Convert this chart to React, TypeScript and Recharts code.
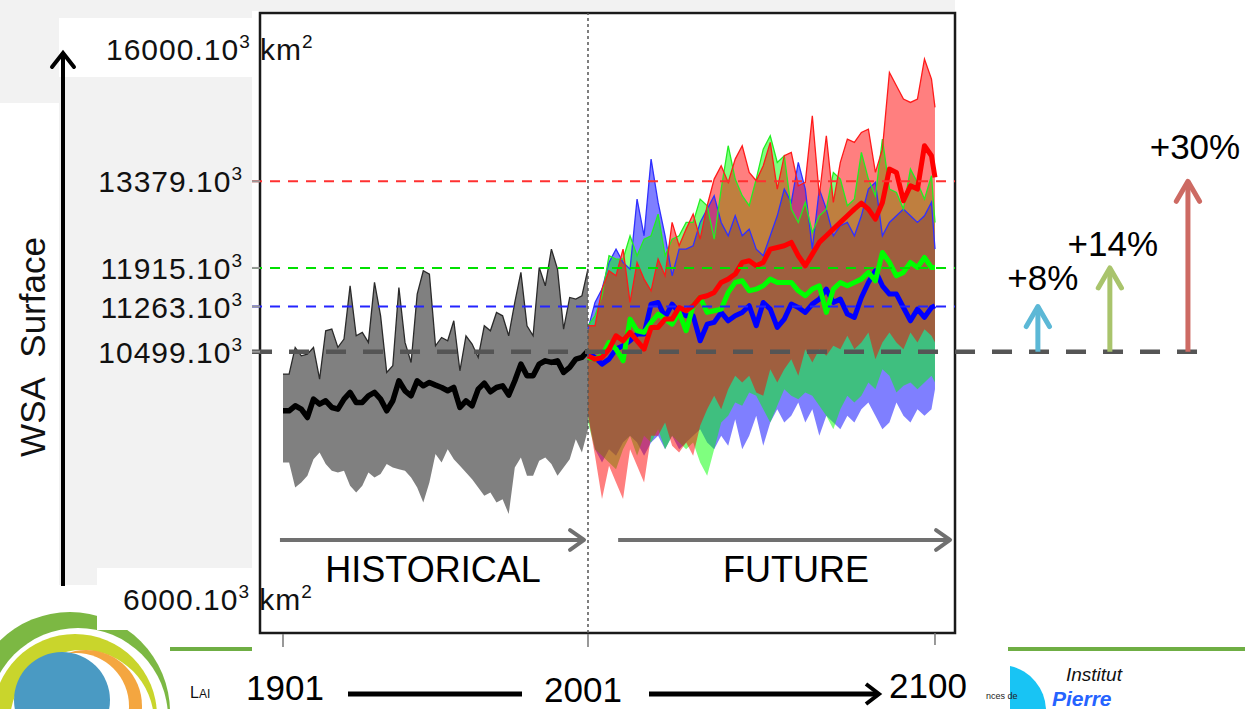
import React from "react";
import {
  ComposedChart,
  Area,
  Line,
  XAxis,
  YAxis,
  ReferenceLine,
  ReferenceArea,
} from "recharts";

const FONT = '"Liberation Sans", Arial, Helvetica, sans-serif';

// ---- historical run (1901-2001), values in 10^3 km2 ----
const HIST_YEARS = [
  1901, 1903, 1905, 1907, 1909, 1911, 1913, 1915, 1917, 1919, 1921, 1923, 1925,
  1927, 1929, 1931, 1933, 1935, 1937, 1939, 1941, 1943, 1945, 1947, 1949, 1951,
  1953, 1955, 1957, 1959, 1961, 1963, 1965, 1967, 1969, 1971, 1973, 1975, 1977,
  1979, 1981, 1983, 1985, 1987, 1989, 1991, 1993, 1995, 1997, 1999, 2001,
];
const HIST_HIGH = [
  10121, 10121, 10571, 10430, 10459, 10571, 10036, 10853, 10881, 10571, 10712,
  11613, 10768, 10825, 10656, 11670, 11106, 10149, 10261, 11585, 10656, 10318,
  11473, 11867, 11811, 10599, 10740, 10684, 11022, 10177, 10768, 10628, 10402,
  10937, 10853, 11163, 11106, 10768, 11332, 11839, 10937, 10768, 11923, 11613,
  12233, 11895, 10881, 11416, 11388, 11444, 11900,
];
const HIST_LOW = [
  8628, 8628, 8205, 8290, 8403, 8684, 8797, 8600, 8487, 8459, 8487, 8234, 8121,
  8234, 8459, 8374, 8431, 8600, 8543, 8515, 8487, 8374, 8205, 7952, 8290, 8769,
  8628, 8853, 8684, 8571, 8459, 8346, 8205, 8065, 8121, 7952, 8008, 7755, 8543,
  8712, 8403, 8403, 8656, 8712, 8600, 8403, 8543, 8684, 9022, 8797, 9191,
];
const HIST_MEAN = [
  9501, 9501, 9586, 9529, 9388, 9698, 9614, 9670, 9557, 9529, 9698, 9811, 9642,
  9642, 9754, 9811, 9698, 9501, 9670, 10008, 9839, 9754, 10008, 9923, 9980, 9935,
  9895, 9839, 9895, 9557, 9670, 9586, 9867, 9969, 9822, 9895, 9923, 9766, 10008,
  10290, 10093, 10093, 10290, 10346, 10318, 10346, 10149, 10233, 10374, 10402,
  10515,
];

// ---- future runs (2001-2100), three scenarios ----
const FUT_YEARS = [
  2001, 2003, 2005, 2007, 2009, 2011, 2013, 2015, 2017, 2019, 2021, 2023, 2025,
  2027, 2029, 2031, 2033, 2035, 2037, 2039, 2041, 2043, 2045, 2047, 2049, 2051,
  2053, 2055, 2057, 2059, 2061, 2063, 2065, 2067, 2069, 2071, 2073, 2075, 2077,
  2079, 2081, 2083, 2085, 2087, 2089, 2091, 2093, 2095, 2097, 2099, 2100,
];
// blue scenario
const LOW_MEAN = [
  10487, 10402, 10290, 10374, 10543, 10600, 10684, 10797, 10797, 11304, 11332,
  11079, 11304, 11163, 11107, 11107, 10684, 10965, 10994, 11163, 11022, 11107,
  11163, 11276, 10938, 11332, 11219, 10909, 11050, 11304, 11247, 11163, 11304,
  11388, 11557, 11332, 11388, 11135, 11079, 11416, 11670, 11867, 11613, 11473,
  11473, 11247, 11022, 11219, 11079, 11247, 11276,
];
const LOW_MAX = [
  10881, 11332, 11557, 12008, 12233, 12008, 11895, 13078, 12458, 13754, 13022,
  12458, 11783, 12233, 12233, 12290, 12684, 12909, 13135, 12684, 12458, 12796,
  12458, 12571, 12233, 12121, 12458, 12796, 13247, 13022, 13698, 13247, 12233,
  13247, 12909, 12458, 12628, 12684, 12458, 12796, 13247, 13360, 12458, 12684,
  12796, 12909, 12796, 12684, 12796, 13022, 12233,
];
const LOW_MIN = [
  9417, 8853, 8628, 8853, 8741, 8966, 9079, 8966, 8741, 8966, 9079, 8853, 9079,
  8853, 8966, 9079, 9191, 8966, 8853, 9079, 8910, 9360, 8853, 9079, 9417, 8910,
  9304, 9529, 9304, 9417, 9642, 9304, 9529, 9079, 9417, 9304, 9191, 9417, 9304,
  9529, 9642, 9417, 9191, 9304, 9642, 9417, 9304, 9529, 9417, 9529, 9867,
];
// green scenario
const MID_MEAN = [
  10402, 10374, 10431, 10656, 10543, 10346, 11050, 10853, 10825, 10994, 11135,
  11050, 10965, 11163, 10853, 11276, 11416, 11163, 11191, 11219, 11501, 11670,
  11698, 11529, 11557, 11613, 11726, 11670, 11670, 11670, 11529, 11445, 11557,
  11613, 11163, 11557, 11670, 11613, 11670, 11726, 11839, 11698, 12177, 12008,
  11782, 11839, 12008, 11923, 12092, 11923, 11923,
];
const MID_MAX = [
  10938, 11107, 11445, 12121, 12064, 12064, 12458, 12121, 12402, 12458, 12825,
  12121, 12402, 12458, 12684, 12684, 13078, 12966, 12402, 13247, 13980, 13416,
  13135, 12966, 13416, 13923, 14149, 13698, 13811, 12909, 12684, 13022, 12515,
  12796, 12909, 13529, 13416, 12966, 13078, 13867, 13416, 13135, 14092, 13247,
  13191, 12909, 13585, 13360, 13078, 13473, 12684,
];
const MID_MIN = [
  9304, 8853, 8741, 8628, 8515, 8853, 9079, 8741, 9079, 8966, 9191, 8853, 9079,
  8966, 8853, 8966, 8628, 8402, 8853, 9304, 9417, 9642, 9586, 9811, 9754, 9529,
  9304, 9586, 9867, 9754, 9698, 9811, 9754, 9586, 9417, 9191, 9529, 9754, 9642,
  9754, 9980, 9867, 10205, 10092, 9811, 9923, 9980, 9867, 9980, 10092, 9980,
];
// red scenario
const HIGH_MEAN = [
  10431, 10374, 10402, 10543, 10769, 10684, 10825, 10684, 10543, 10909, 10909,
  11050, 11050, 11247, 11191, 11276, 11416, 11445, 11501, 11670, 11726, 11811,
  12008, 12036, 11952, 12008, 12233, 12261, 12290, 12346, 12121, 11952, 12149,
  12346, 12458, 12571, 12684, 12796, 12909, 13011, 12909, 12740, 13022, 13585,
  13529, 13050, 13304, 13247, 13980, 13810, 13444,
];
const HIGH_MAX = [
  10938, 10938, 11557, 11867, 11783, 12233, 11332, 12008, 11726, 11529, 12064,
  11783, 12684, 12290, 12571, 12825, 12402, 12966, 13416, 13641, 13360, 13754,
  13980, 13529, 13388, 13641, 14036, 13247, 13811, 13867, 13304, 13360, 14487,
  13135, 14149, 13022, 13698, 14093, 14036, 14205, 14261, 13529, 13923, 15219,
  14993, 14768, 14712, 14768, 15444, 15106, 14627,
];
const HIGH_MIN = [
  9417, 8741, 8009, 8572, 8290, 8009, 8853, 8572, 8290, 9079, 9079, 9304, 8910,
  8797, 8966, 8741, 9248, 9529, 9754, 9529, 9867, 10092, 9980, 10092, 9811, 9754,
  10205, 9980, 10205, 10374, 10092, 10543, 10318, 10543, 10430, 10600, 10543,
  10768, 10543, 10656, 10825, 10374, 10656, 10825, 10656, 10543, 10825, 10656,
  10881, 10768, 10656,
];

// reference levels (end-of-century mean of each scenario vs historical)
const BASE_LEVEL = 10499;
const LEVELS = [
  { value: 13379, color: "#ff3030", arrow: "#cd6a63", label: "+30%" },
  { value: 11915, color: "#00e000", arrow: "#a9c46c", label: "+14%" },
  { value: 11263, color: "#2424ff", arrow: "#5cb8d6", label: "+8%" },
];
const Y_TICKS = [10499, 11263, 11915, 13379];

// axis layout (historical and future panels have different year widths)
const HIST_DOMAIN = [1893.46, 2211.49];
const FUT_DOMAIN = [1907.42, 2184.17];
const Y_DOMAIN = [5746, 16223];
const BOX_END = 2121.33;
const LINE_START = 1890.84;
const BASE_END = 2203.3;
const ARROW_X = { "+8%": 2148.5, "+14%": 2172.1, "+30%": 2197.7 } as Record<string, number>;
const LABEL_OFF = { "+8%": [5, 17], "+14%": [3, 12], "+30%": [7, 22] } as Record<string, number[]>;
const PERIOD_Y = 7318;

type Row = { year: number; [k: string]: any };
const rows: Row[] = HIST_YEARS.map((year, i) => ({
  year,
  histRange: [HIST_LOW[i], HIST_HIGH[i]],
  histHigh: HIST_HIGH[i],
  histMean: HIST_MEAN[i],
}));
FUT_YEARS.forEach((year, i) => {
  let row = rows.find((r) => r.year === year);
  if (!row) {
    row = { year };
    rows.push(row);
  }
  Object.assign(row, {
    lowRange: [LOW_MIN[i], LOW_MAX[i]],
    lowHigh: LOW_MAX[i],
    lowMean: LOW_MEAN[i],
    midRange: [MID_MIN[i], MID_MAX[i]],
    midHigh: MID_MAX[i],
    midMean: MID_MEAN[i],
    highRange: [HIGH_MIN[i], HIGH_MAX[i]],
    highHigh: HIGH_MAX[i],
    highMean: HIGH_MEAN[i],
  });
});

const YTick = (props: any) => {
  const { x, y, payload } = props;
  return (
    <text x={x} y={y + 11} textAnchor="end" fontFamily={FONT} fontSize={30} letterSpacing={1} fill="#111">
      {payload.value}.10
      <tspan dy={-12} fontSize={19}>3</tspan>
    </text>
  );
};

const XTick = (props: any) => {
  const { x, y, payload } = props;
  const v = payload.value;
  const dx = v === 2001 ? -5 : v === 2100 ? -7 : 2;
  return (
    <text x={x + dx} y={y + (v === 2001 ? 55 : 53)} textAnchor="middle" fontFamily={FONT} fontSize={35} fill="#000">
      {v}
    </text>
  );
};

interface ArrowStyle {
  color: string;
  width: number;
  head: number;
  dir: "up" | "right";
  label?: string;
  size?: number;
  dx?: number;
  dy?: number;
}

const arrowShape = (s: ArrowStyle) => (p: any) => {
  const { x1, y1, x2, y2 } = p;
  const h = s.head;
  const head =
    s.dir === "up"
      ? `${x2 - h * 0.58},${y2 + h} ${x2},${y2} ${x2 + h * 0.58},${y2 + h}`
      : `${x2 - h},${y2 - h * 0.7} ${x2},${y2} ${x2 - h},${y2 + h * 0.7}`;
  const tx = s.dir === "up" ? x2 + (s.dx ?? 0) : (x1 + x2) / 2 + (s.dx ?? 0);
  const ty = s.dir === "up" ? y2 - (s.dy ?? 0) : y1 + (s.dy ?? 0);
  return (
    <g>
      <line x1={x1} y1={y1} x2={x2} y2={y2} stroke={s.color} strokeWidth={s.width} />
      <polyline
        points={head}
        fill="none"
        stroke={s.color}
        strokeWidth={s.width}
        strokeLinecap="round"
        strokeLinejoin="round"
      />
      {s.label && (
        <text x={tx} y={ty} textAnchor="middle" fontFamily={FONT} fontSize={s.size ?? 35} fill="#000">
          {s.label}
        </text>
      )}
    </g>
  );
};

const Background = () => (
  <svg width={1245} height={709} style={{ position: "absolute", left: 0, top: 0 }}>
    <rect x={0} y={0} width={955} height={11} fill="#f2f2f2" />
    <rect x={0} y={0} width={59} height={103} fill="#f2f2f2" />
    <rect x={59} y={0} width={193} height={18} fill="#f2f2f2" />
    <rect x={59} y={77} width={193} height={491} fill="#f2f2f2" />
    <rect x={59} y={568} width={38} height={17} fill="#f2f2f2" />
    {/* logo bottom left */}
    <circle cx={70} cy={712} r={100} fill="#7cb843" />
    <circle cx={78} cy={718} r={90} fill="#fff" />
    <circle cx={75} cy={716} r={82} fill="#c9d52c" />
    <circle cx={82} cy={722} r={72} fill="#fff" />
    <circle cx={86} cy={706} r={56} fill="#f4a640" />
    <circle cx={76} cy={706} r={53} fill="#fff" />
    <circle cx={62} cy={700} r={48} fill="#4a9ac3" />
    <rect x={97} y={568} width={158} height={62} fill="#fff" />
    {/* slide separator */}
    <line x1={170} y1={649} x2={252} y2={649} stroke="#6fae44" strokeWidth={4} />
    <line x1={1008} y1={649} x2={1245} y2={649} stroke="#6fae44" strokeWidth={4} />
    {/* logo bottom right */}
    <path d="M1010,709 L1010,666 A46,46 0 0 1 1046,709 Z" fill="#18c4f4" />
    <text x={986} y={699} fontFamily={FONT} fontSize={9} fill="#222">nces de</text>
    <text x={1066} y={681} fontFamily={FONT} fontSize={19} fontStyle="italic" fill="#111">Institut</text>
    <text x={1052} y={706} fontFamily={FONT} fontSize={21} fontStyle="italic" fontWeight="bold" fill="#2563ff">Pierre</text>
    <text x={190} y={698} fontFamily={FONT} fontSize={16} fill="#111">
      L<tspan fontSize={12}>AI</tspan>
    </text>
  </svg>
);

const Overlay = () => (
  <svg width={1245} height={709} style={{ position: "absolute", left: 0, top: 0, pointerEvents: "none" }}>
    <text x={106} y={60} fontFamily={FONT} fontSize={30} letterSpacing={1} fill="#111">
      16000.10
      <tspan dy={-12} fontSize={19}>3</tspan>
      <tspan dy={12}>{"\u00a0km"}</tspan>
      <tspan dy={-12} fontSize={19}>2</tspan>
    </text>
    <text x={123} y={610} fontFamily={FONT} fontSize={30} letterSpacing={1} fill="#111">
      6000.10
      <tspan dy={-12} fontSize={19}>3</tspan>
      <tspan dy={12}>{"\u00a0km"}</tspan>
      <tspan dy={-12} fontSize={19}>2</tspan>
    </text>
    <text
      x={45}
      y={347}
      transform="rotate(-90 45 347)"
      textAnchor="middle"
      fontFamily={FONT}
      fontSize={35}
      fill="#111"
    >
      {"WSA\u00a0\u00a0Surface"}
    </text>
    <line x1={63} y1={586} x2={63} y2={54} stroke="#000" strokeWidth={4} />
    <polyline points="52,67 63,53 74,67" fill="none" stroke="#000" strokeWidth={4} strokeLinecap="round" />
    <line x1={348} y1={694} x2={522} y2={694} stroke="#000" strokeWidth={5} />
    <line x1={649} y1={694} x2={876} y2={694} stroke="#000" strokeWidth={5} />
    <polyline points="866,684 879,694 866,704" fill="none" stroke="#000" strokeWidth={4} />
  </svg>
);

export default function App() {
  return (
    <div style={{ position: "absolute", left: 0, top: 0, width: 1245, height: 709, background: "#fff", overflow: "hidden" }}>
      <Background />
      <div style={{ position: "absolute", left: 0, top: 0 }}>
        <ComposedChart width={1245} height={709} data={rows} margin={{ top: 13, right: 15, left: 0, bottom: 74 }}>
          <XAxis
            xAxisId="hist"
            dataKey="year"
            type="number"
            domain={HIST_DOMAIN}
            allowDataOverflow
            ticks={[1901, 2001]}
            interval={0}
            height={1}
            tickSize={13}
            tickMargin={0}
            axisLine={false}
            tickLine={{ stroke: "#777", strokeWidth: 1.5 }}
            tick={<XTick />}
          />
          <XAxis
            xAxisId="fut"
            dataKey="year"
            type="number"
            domain={FUT_DOMAIN}
            allowDataOverflow
            ticks={[2100]}
            interval={0}
            height={1}
            tickSize={12}
            tickMargin={0}
            axisLine={false}
            tickLine={{ stroke: "#777", strokeWidth: 1.5 }}
            tick={<XTick />}
          />
          <YAxis
            type="number"
            domain={Y_DOMAIN}
            allowDataOverflow
            ticks={Y_TICKS}
            interval={0}
            width={260}
            tickSize={8}
            tickMargin={9}
            axisLine={false}
            tickLine={{ stroke: "#999", strokeWidth: 2 }}
            tick={<YTick />}
          />

          <Area xAxisId="hist" dataKey="histRange" type="linear" fill="#808080" fillOpacity={1} stroke="none" isAnimationActive={false} />
          <Area xAxisId="fut" dataKey="lowRange" type="linear" fill="#0000ff" fillOpacity={0.5} stroke="none" isAnimationActive={false} />
          <Area xAxisId="fut" dataKey="midRange" type="linear" fill="#00ff00" fillOpacity={0.5} stroke="none" isAnimationActive={false} />
          <Area xAxisId="fut" dataKey="highRange" type="linear" fill="#ff0000" fillOpacity={0.5} stroke="none" isAnimationActive={false} />

          <Line xAxisId="hist" dataKey="histHigh" type="linear" stroke="#2a2a2a" strokeWidth={1.3} dot={false} isAnimationActive={false} />
          <Line xAxisId="fut" dataKey="lowHigh" type="linear" stroke="#3030ff" strokeWidth={1.3} dot={false} isAnimationActive={false} />
          <Line xAxisId="fut" dataKey="midHigh" type="linear" stroke="#22ee22" strokeWidth={1.3} dot={false} isAnimationActive={false} />
          <Line xAxisId="fut" dataKey="highHigh" type="linear" stroke="#ff1a1a" strokeWidth={1.3} dot={false} isAnimationActive={false} />

          <Line xAxisId="hist" dataKey="histMean" type="linear" stroke="#000" strokeWidth={5.5} strokeLinejoin="round" dot={false} isAnimationActive={false} />
          <Line xAxisId="fut" dataKey="lowMean" type="linear" stroke="#0000ff" strokeWidth={5} strokeLinejoin="round" dot={false} isAnimationActive={false} />
          <Line xAxisId="fut" dataKey="midMean" type="linear" stroke="#00ff00" strokeWidth={5} strokeLinejoin="round" dot={false} isAnimationActive={false} />
          <Line xAxisId="fut" dataKey="highMean" type="linear" stroke="#ff0000" strokeWidth={5} strokeLinejoin="round" dot={false} isAnimationActive={false} />

          <ReferenceArea
            xAxisId="hist"
            x1={HIST_DOMAIN[0]}
            x2={BOX_END}
            y1={Y_DOMAIN[0]}
            y2={Y_DOMAIN[1]}
            fill="none"
            fillOpacity={0}
            stroke="#1a1a1a"
            strokeWidth={2.5}
            ifOverflow="visible"
          />
          <ReferenceLine xAxisId="hist" x={2001} stroke="#555" strokeDasharray="3 3" strokeWidth={1.5} />
          {LEVELS.map((l) => (
            <ReferenceLine
              key={l.value}
              xAxisId="hist"
              segment={[
                { x: LINE_START, y: l.value },
                { x: BOX_END, y: l.value },
              ]}
              stroke={l.color}
              strokeWidth={2}
              strokeDasharray="10 8"
              ifOverflow="visible"
            />
          ))}
          <ReferenceLine
            xAxisId="hist"
            segment={[
              { x: LINE_START, y: BASE_LEVEL },
              { x: BASE_END, y: BASE_LEVEL },
            ]}
            stroke="#555"
            strokeWidth={4.5}
            strokeDasharray="20 17"
            ifOverflow="visible"
          />
          {LEVELS.map((l) => (
            <ReferenceLine
              key={l.label}
              xAxisId="hist"
              segment={[
                { x: ARROW_X[l.label], y: BASE_LEVEL },
                { x: ARROW_X[l.label], y: l.value },
              ]}
              ifOverflow="visible"
              shape={arrowShape({
                color: l.arrow,
                width: 5,
                head: 20,
                dir: "up",
                label: l.label,
                dx: LABEL_OFF[l.label][0],
                dy: LABEL_OFF[l.label][1],
              })}
            />
          ))}
          <ReferenceLine
            xAxisId="hist"
            segment={[
              { x: 1900, y: PERIOD_Y },
              { x: 1999.7, y: PERIOD_Y },
            ]}
            ifOverflow="visible"
            shape={arrowShape({ color: "#707070", width: 4, head: 14, dir: "right", label: "HISTORICAL", size: 36, dx: 1, dy: 42 })}
          />
          <ReferenceLine
            xAxisId="fut"
            segment={[
              { x: 2009.6, y: PERIOD_Y },
              { x: 2104.3, y: PERIOD_Y },
            ]}
            ifOverflow="visible"
            shape={arrowShape({ color: "#707070", width: 4, head: 14, dir: "right", label: "FUTURE", size: 36, dx: 12, dy: 42 })}
          />
        </ComposedChart>
      </div>
      <Overlay />
    </div>
  );
}
